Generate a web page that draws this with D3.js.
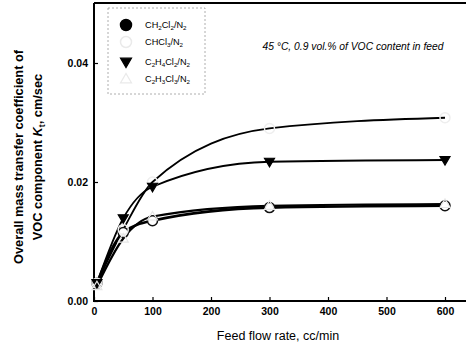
<!DOCTYPE html>
<html><head><meta charset="utf-8">
<script src="https://cdn.jsdelivr.net/npm/d3@7/dist/d3.min.js"></script>
<style>body{margin:0;background:#fff}svg{display:block}</style>
</head><body>
<svg id="c" width="467" height="358"></svg>
<script>
const flowRates = [5, 50, 100, 300, 600];
const ch2cl2 = [0.0030, 0.0115, 0.0135, 0.0157, 0.0160];
const chcl3 = [0.0030, 0.0120, 0.0200, 0.0290, 0.0308];
const c2h4cl2 = [0.0030, 0.0139, 0.0192, 0.0234, 0.0237];
const c2h3cl3 = [0.0025, 0.0105, 0.0142, 0.0160, 0.0163];
const xTicks = [0, 100, 200, 300, 400, 500, 600];
const yTicks = [0.00, 0.02, 0.04];
const seriesNames = [["CH", "2", "Cl", "2", "/N", "2"], ["CHCl", "3", "/N", "2"], ["C", "2", "H", "4", "Cl", "2", "/N", "2"], ["C", "2", "H", "3", "Cl", "3", "/N", "2"]];

const svg = d3.select("#c");
const x = d3.scaleLinear().domain([0, 600]).range([94, 445]);
const y = d3.scaleLinear().domain([0, 0.04]).range([301, 63]);
const xMax = x.invert(466), yMax = y.invert(3);
const FF = "Liberation Sans, Arial, sans-serif";

// frame
svg.append("path").attr("d", `M${x(0)},${y(yMax)}H${x(xMax)}M${x(0)},${y(yMax)}V${y(0)}H${x(xMax)}`)
  .attr("fill", "none").attr("stroke", "#000").attr("stroke-width", 2);

const gx = svg.append("g").attr("transform", `translate(0,${y(0)})`)
  .call(d3.axisBottom(x).tickValues(xTicks).tickSize(-4).tickPadding(7).tickFormat(d3.format("d")));
const gy = svg.append("g").attr("transform", `translate(${x(0)},0)`)
  .call(d3.axisLeft(y).tickValues(yTicks).tickSize(-4).tickPadding(6).tickFormat(d3.format(".2f")));
[gx, gy].forEach(g => {
  g.select(".domain").remove();
  g.selectAll("line").attr("stroke", "#000").attr("stroke-width", 1.2);
  g.selectAll("text").attr("font-family", FF).attr("font-weight", "bold").attr("font-size", 10.5).attr("fill", "#000");
});

const series = [
  {v: ch2cl2, m: "circle", fill: "#fff", stroke: "#111", w: 2.6},
  {v: chcl3, m: "circle", fill: "none", stroke: "#eee", w: 1.8},
  {v: c2h4cl2, m: "triangleDown", fill: "#000", stroke: "#000", w: 1.8},
  {v: c2h3cl3, m: "triangleUp", fill: "none", stroke: "#e6e6e6", w: 2.2}
];
const line = d3.line().x(d => x(d[0])).y(d => y(d[1])).curve(d3.curveMonotoneX);
series.forEach(s => {
  svg.append("path").datum(flowRates.map((f, i) => [f, s.v[i]]))
    .attr("d", line).attr("fill", "none").attr("stroke", "#000").attr("stroke-width", s.w);
});
function marker(g, type, cx, cy, r, fill, stroke) {
  if (type === "circle") {
    g.append("circle").attr("cx", cx).attr("cy", cy).attr("r", r).attr("fill", fill).attr("stroke", stroke).attr("stroke-width", 1.5);
  } else {
    const dir = type === "triangleDown" ? 1 : -1;
    g.append("path").attr("d", `M${cx - r},${cy - dir * r * 0.7}L${cx + r},${cy - dir * r * 0.7}L${cx},${cy + dir * r}Z`)
      .attr("fill", fill).attr("stroke", stroke).attr("stroke-width", 1.2);
  }
}
const mg = svg.append("g");
series.forEach(s => {
  flowRates.forEach((f, i) => marker(mg, s.m, x(f), y(s.v[i]), 5, s.fill, s.stroke));
});

// legend
const lg = svg.append("g");
lg.append("rect").attr("x", 108).attr("y", 8).attr("width", 97).attr("height", 86)
  .attr("fill", "none").attr("stroke", "#999").attr("stroke-width", 0.8).attr("stroke-dasharray", "2,2");
const legM = [
  {m: "circle", fill: "#000", stroke: "#000"},
  {m: "circle", fill: "none", stroke: "#eaeaea"},
  {m: "triangleDown", fill: "#000", stroke: "#000"},
  {m: "triangleUp", fill: "none", stroke: "#eaeaea"}
];
const rowY = [25, 42, 62, 79];
seriesNames.forEach((parts, i) => {
  marker(lg, legM[i].m, 126, rowY[i], 5.5, legM[i].fill, legM[i].stroke);
  const t = lg.append("text").attr("x", 145).attr("y", rowY[i] + 3)
    .attr("font-family", FF).attr("font-size", 9.2).attr("fill", "#000");
  parts.forEach((p, j) => {
    const sub = j % 2 === 1;
    t.append("tspan").text(p).attr("font-size", sub ? 6.2 : 9.2).attr("dy", sub ? 2 : (j > 0 ? -2 : 0));
  });
});

// annotation
svg.append("text").attr("x", 353).attr("y", 50).attr("text-anchor", "middle")
  .attr("font-family", FF).attr("font-style", "italic").attr("font-size", 10.3)
  .text("45 °C, 0.9 vol.% of VOC content in feed");

// axis titles
svg.append("text").attr("x", 278).attr("y", 340).attr("text-anchor", "middle")
  .attr("font-family", FF).attr("font-size", 12.5).text("Feed flow rate, cc/min");
const yt = svg.append("text").attr("transform", "translate(23,157) rotate(-90)").attr("text-anchor", "middle")
  .attr("font-family", FF).attr("font-weight", "bold").attr("font-size", 12.8);
yt.append("tspan").attr("x", 0).attr("dy", 0).text("Overall mass transfer coefficient of");
const l2 = yt.append("tspan").attr("x", 0).attr("dy", 19);
l2.text("VOC component ");
yt.append("tspan").attr("font-style", "italic").text("K");
yt.append("tspan").attr("font-size", 8.5).attr("dy", 3).text("t");
yt.append("tspan").attr("dy", -3).text(", cm/sec");
</script>
</body></html>
